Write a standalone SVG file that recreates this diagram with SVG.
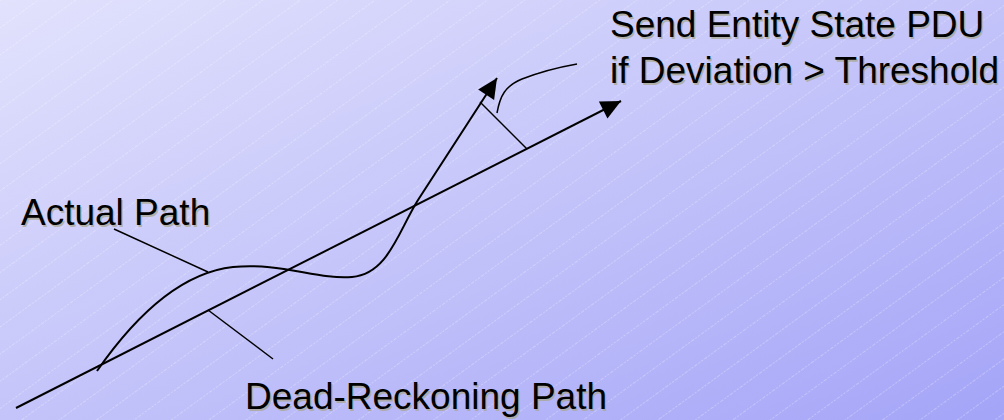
<svg xmlns="http://www.w3.org/2000/svg" width="1004" height="420" viewBox="0 0 1004 420">
  <defs>
    <linearGradient id="bg" x1="0" y1="0" x2="1" y2="1">
      <stop offset="0" stop-color="#e2e2fd"/>
      <stop offset="0.5" stop-color="#c4c4fa"/>
      <stop offset="1" stop-color="#a4a4f8"/>
    </linearGradient>
    <pattern id="stripes" width="12" height="22" patternUnits="userSpaceOnUse" patternTransform="rotate(-36)">
      <line x1="0" y1="0.5" x2="12" y2="0.5" stroke="#ffffff" stroke-width="0.7" stroke-dasharray="2 1.5" stroke-opacity="0.4"/>
    </pattern>
    <marker id="head" viewBox="-21 -10 22 20" refX="0" refY="0" markerWidth="22" markerHeight="20" markerUnits="userSpaceOnUse" orient="auto">
      <path d="M0,0 L-20,-9.5 L-20,9.5 Z" fill="#000"/>
    </marker>
  </defs>
  <style>
    .lbl { font-family: "Liberation Sans", Arial, sans-serif; font-size: 37px; fill: #000; }
    .shadow { font-family: "Liberation Sans", Arial, sans-serif; font-size: 37px; fill: #a9a790; fill-opacity: 0.75; }
    .main { fill: none; stroke: #000; stroke-width: 2; }
    .thin { fill: none; stroke: #000; stroke-width: 1.5; }
  </style>

  <rect width="1004" height="420" fill="url(#bg)"/>
  <rect width="1004" height="420" fill="url(#stripes)"/>

  <g id="connectors">
    <!-- dead-reckoning path -->
    <line class="main" x1="16" y1="408" x2="621" y2="101" marker-end="url(#head)"/>
    <!-- actual path -->
    <path class="main" d="M97,371 C122,335 170,274 233,267 C280,262 318,280 352,277 C388,274 398,232 418,200 L497,78" marker-end="url(#head)"/>
    <!-- deviation between paths -->
    <line class="thin" x1="480" y1="102" x2="527" y2="149"/>
    <!-- leaders -->
    <path class="thin" d="M497,113 C500,96 505,86 522,79 C540,72 560,67 577,64"/>
    <line class="thin" x1="114" y1="229" x2="208" y2="272"/>
    <line class="thin" x1="208" y1="310" x2="273" y2="359"/>
  </g>

  <g id="label-actual">
    <text class="shadow" x="22.5" y="226.5">Actual Path</text>
    <text class="lbl" x="21" y="225">Actual Path</text>
  </g>
  <g id="label-dead-reckoning">
    <text class="shadow" x="246.5" y="410.5">Dead-Reckoning Path</text>
    <text class="lbl" x="245" y="409">Dead-Reckoning Path</text>
  </g>
  <g id="label-send">
    <text class="shadow" x="611.5" y="38.5">Send Entity State PDU</text>
    <text class="shadow" x="611.5" y="84.5">if Deviation &gt; Threshold</text>
    <text class="lbl" x="610" y="37">Send Entity State PDU</text>
    <text class="lbl" x="610" y="83">if Deviation &gt; Threshold</text>
  </g>
</svg>
